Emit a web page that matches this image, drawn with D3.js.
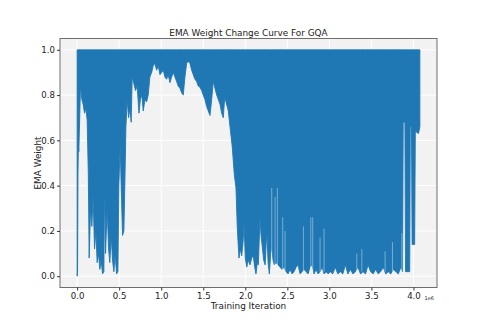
<!DOCTYPE html>
<html>
<head>
<meta charset="utf-8">
<script src="https://cdn.jsdelivr.net/npm/d3@7"></script>
<style>
  body { margin: 0; background: #fff; }
  svg text { font-family: "DejaVu Sans", sans-serif; fill: #222; }
</style>
</head>
<body>
<div id="chart"></div>
<script>
// EMA weight curve (GQA) - lower envelope, top stays at 1.0
const itersK = [
  0, 5, 10, 15, 20, 40, 56, 71, 88, 104, 119, 133, 143, 160, 175, 190, 207, 223, 238, 255,
  270, 286, 302, 318, 326, 338, 357, 374, 389, 405, 421, 437, 452, 469, 485, 496, 512, 524, 540, 556,
  568, 580, 595, 612, 627, 643, 655, 675, 695, 714, 735, 752, 770, 786, 806, 826, 845, 865, 886, 905,
  925, 945, 964, 985, 1005, 1024, 1044, 1064, 1083, 1104, 1124, 1143, 1163, 1183, 1202, 1223, 1243, 1262, 1282, 1302,
  1321, 1342, 1362, 1381, 1401, 1421, 1440, 1461, 1481, 1500, 1520, 1540, 1560, 1580, 1600, 1619, 1639, 1660, 1679, 1699,
  1719, 1738, 1755, 1770, 1798, 1818, 1845, 1869, 1889, 1905, 1925, 1940, 1957, 1973, 1985, 2000, 2017, 2036, 2056, 2076,
  2095, 2112, 2127, 2143, 2155, 2175, 2187, 2202, 2219, 2236, 2256, 2271, 2286, 2302, 2314, 2330, 2345, 2365, 2389, 2413,
  2437, 2461, 2485, 2508, 2532, 2556, 2580, 2604, 2627, 2651, 2675, 2699, 2723, 2746, 2770, 2794, 2818, 2842, 2865, 2889,
  2913, 2937, 2961, 2985, 3010, 3040, 3070, 3100, 3130, 3160, 3190, 3220, 3250, 3280, 3310, 3340, 3370, 3400, 3430, 3460,
  3490, 3520, 3550, 3580, 3610, 3640, 3670, 3700, 3730, 3760, 3790, 3820, 3850, 3870, 3878, 3898, 3906, 3955, 3962, 3976,
  3984, 4014, 4022, 4060, 4076
];
const emaLow = [
  0.00, 0.02, 0.45, 0.58, 0.55, 0.84, 0.78, 0.76, 0.72, 0.74, 0.69, 0.45, 0.08, 0.30, 0.22, 0.35, 0.12, 0.20, 0.06, 0.10,
  0.03, 0.07, 0.01, 0.02, 0.42, 0.10, 0.30, 0.12, 0.06, 0.18, 0.07, 0.02, 0.10, 0.01, 0.02, 0.40, 0.58, 0.40, 0.18, 0.20,
  0.42, 0.66, 0.78, 0.70, 0.74, 0.68, 0.88, 0.85, 0.82, 0.84, 0.72, 0.78, 0.80, 0.73, 0.78, 0.77, 0.80, 0.88, 0.90, 0.93,
  0.94, 0.91, 0.93, 0.89, 0.90, 0.91, 0.88, 0.87, 0.89, 0.855, 0.88, 0.90, 0.88, 0.86, 0.84, 0.83, 0.81, 0.80, 0.88, 0.94,
  0.95, 0.94, 0.91, 0.89, 0.87, 0.86, 0.84, 0.835, 0.82, 0.80, 0.78, 0.75, 0.73, 0.71, 0.78, 0.86, 0.83, 0.80, 0.78, 0.76,
  0.72, 0.70, 0.79, 0.77, 0.73, 0.66, 0.57, 0.45, 0.39, 0.21, 0.08, 0.12, 0.09, 0.15, 0.23, 0.08, 0.04, 0.07, 0.05, 0.08,
  0.09, 0.04, 0.01, 0.06, 0.05, 0.26, 0.18, 0.13, 0.07, 0.05, 0.20, 0.06, 0.01, 0.10, 0.13, 0.07, 0.05, 0.06, 0.05, 0.04,
  0.03, 0.04, 0.02, 0.01, 0.03, 0.01, 0.02, 0.04, 0.05, 0.01, 0.02, 0.03, 0.02, 0.01, 0.04, 0.05, 0.01, 0.03, 0.01, 0.02,
  0.04, 0.01, 0.02, 0.01, 0.02, 0.01, 0.04, 0.01, 0.02, 0.01, 0.05, 0.01, 0.03, 0.01, 0.02, 0.04, 0.01, 0.02, 0.01, 0.05,
  0.02, 0.01, 0.03, 0.01, 0.02, 0.04, 0.01, 0.02, 0.01, 0.03, 0.02, 0.01, 0.04, 0.02, 0.68, 0.68, 0.02, 0.02, 0.66, 0.66,
  0.14, 0.14, 0.64, 0.63, 0.66
];
const EMA_CEIL = 1.0;   // the curve hits 1.0 on every swing

// strisce chiare (oscillazioni che non scendono fino in fondo)
const streakItersK = [2314, 2354, 2381, 2445, 2473, 2691, 2779, 2802, 2889, 2937, 3326, 3386, 3663, 3750, 3862];
const streakTop    = [0.39, 0.35, 0.39, 0.26, 0.20, 0.22, 0.26, 0.26, 0.17, 0.21, 0.10, 0.12, 0.11, 0.15, 0.19];

const xTicks = [0, 0.5e6, 1.0e6, 1.5e6, 2.0e6, 2.5e6, 3.0e6, 3.5e6, 4.0e6];
const yTicks = [0.0, 0.2, 0.4, 0.6, 0.8, 1.0];

const W = 485, H = 323;
const AX = { left: 60, right: 437, top: 38.5, bottom: 287.5 };
const BLUE = '#1f77b4';

const data = itersK.map((k, i) => ({ it: k * 1000, lo: emaLow[i] }));
const streaks = streakItersK.map((k, i) => ({ it: k * 1000, top: streakTop[i] }));

// margini tipo matplotlib (5%)
const xExt = d3.extent(data, d => d.it);
const xPad = (xExt[1] - xExt[0]) * 0.05;
const x = d3.scaleLinear().domain([xExt[0] - xPad, xExt[1] + xPad]).range([AX.left, AX.right]);
const y = d3.scaleLinear().domain([-0.05, 1.05]).range([AX.bottom, AX.top]);

const svg = d3.select('#chart').append('svg')
  .attr('width', W)
  .attr('height', H);

// sfondo assi
svg.append('rect')
  .attr('x', AX.left).attr('y', AX.top)
  .attr('width', AX.right - AX.left).attr('height', AX.bottom - AX.top)
  .attr('fill', '#f2f2f2');

// griglia bianca
svg.append('g').selectAll('line')
  .data(xTicks).enter().append('line')
  .attr('x1', d => x(d)).attr('x2', d => x(d))
  .attr('y1', AX.top).attr('y2', AX.bottom)
  .attr('stroke', '#fff').attr('stroke-width', 1);
svg.append('g').selectAll('line')
  .data(yTicks).enter().append('line')
  .attr('x1', AX.left).attr('x2', AX.right)
  .attr('y1', d => y(d)).attr('y2', d => y(d))
  .attr('stroke', '#fff').attr('stroke-width', 1);

// curva EMA come banda tra minimo e 1.0
const area = d3.area()
  .x(d => x(d.it))
  .y0(d => y(d.lo))
  .y1(() => y(EMA_CEIL));

svg.append('path')
  .datum(data)
  .attr('d', area)
  .attr('fill', BLUE)
  .attr('stroke', BLUE)
  .attr('stroke-width', 0.9)
  .attr('stroke-linejoin', 'round');

svg.append('g').selectAll('line')
  .data(streaks).enter().append('line')
  .attr('x1', d => x(d.it)).attr('x2', d => x(d.it))
  .attr('y1', y(0.02)).attr('y2', d => y(d.top))
  .attr('stroke', '#fff').attr('stroke-opacity', 0.4).attr('stroke-width', 1);

// bordo
svg.append('rect')
  .attr('x', AX.left).attr('y', AX.top)
  .attr('width', AX.right - AX.left).attr('height', AX.bottom - AX.top)
  .attr('fill', 'none')
  .attr('stroke', '#6e6e6e').attr('stroke-width', 1);

// assi
const xAxis = d3.axisBottom(x).tickValues(xTicks)
  .tickFormat(d => d3.format('.1f')(d / 1e6)).tickSize(3).tickPadding(2);
const yAxis = d3.axisLeft(y).tickValues(yTicks)
  .tickFormat(d3.format('.1f')).tickSize(3).tickPadding(2);

const gx = svg.append('g').attr('transform', `translate(0,${AX.bottom})`).call(xAxis);
const gy = svg.append('g').attr('transform', `translate(${AX.left},0)`).call(yAxis);
[gx, gy].forEach(g => {
  g.select('.domain').remove();
  g.selectAll('.tick line').attr('stroke', '#333');
  g.selectAll('.tick text').attr('font-size', '8.6px').attr('fill', '#222');
});

// offset 1e6
svg.append('text')
  .attr('x', AX.right - 3).attr('y', 300)
  .attr('text-anchor', 'end')
  .attr('font-size', '5px')
  .text('1e6');

// titoli
svg.append('text')
  .attr('x', (AX.left + AX.right) / 2).attr('y', 35.5)
  .attr('text-anchor', 'middle')
  .attr('font-size', '8.9px')
  .text('EMA Weight Change Curve For GQA');

svg.append('text')
  .attr('x', (AX.left + AX.right) / 2).attr('y', 308.5)
  .attr('text-anchor', 'middle')
  .attr('font-size', '8.9px')
  .text('Training Iteration');

svg.append('text')
  .attr('transform', `translate(40.5,${(AX.top + AX.bottom) / 2}) rotate(-90)`)
  .attr('text-anchor', 'middle')
  .attr('font-size', '8.9px')
  .text('EMA Weight');
</script>
</body>
</html>
